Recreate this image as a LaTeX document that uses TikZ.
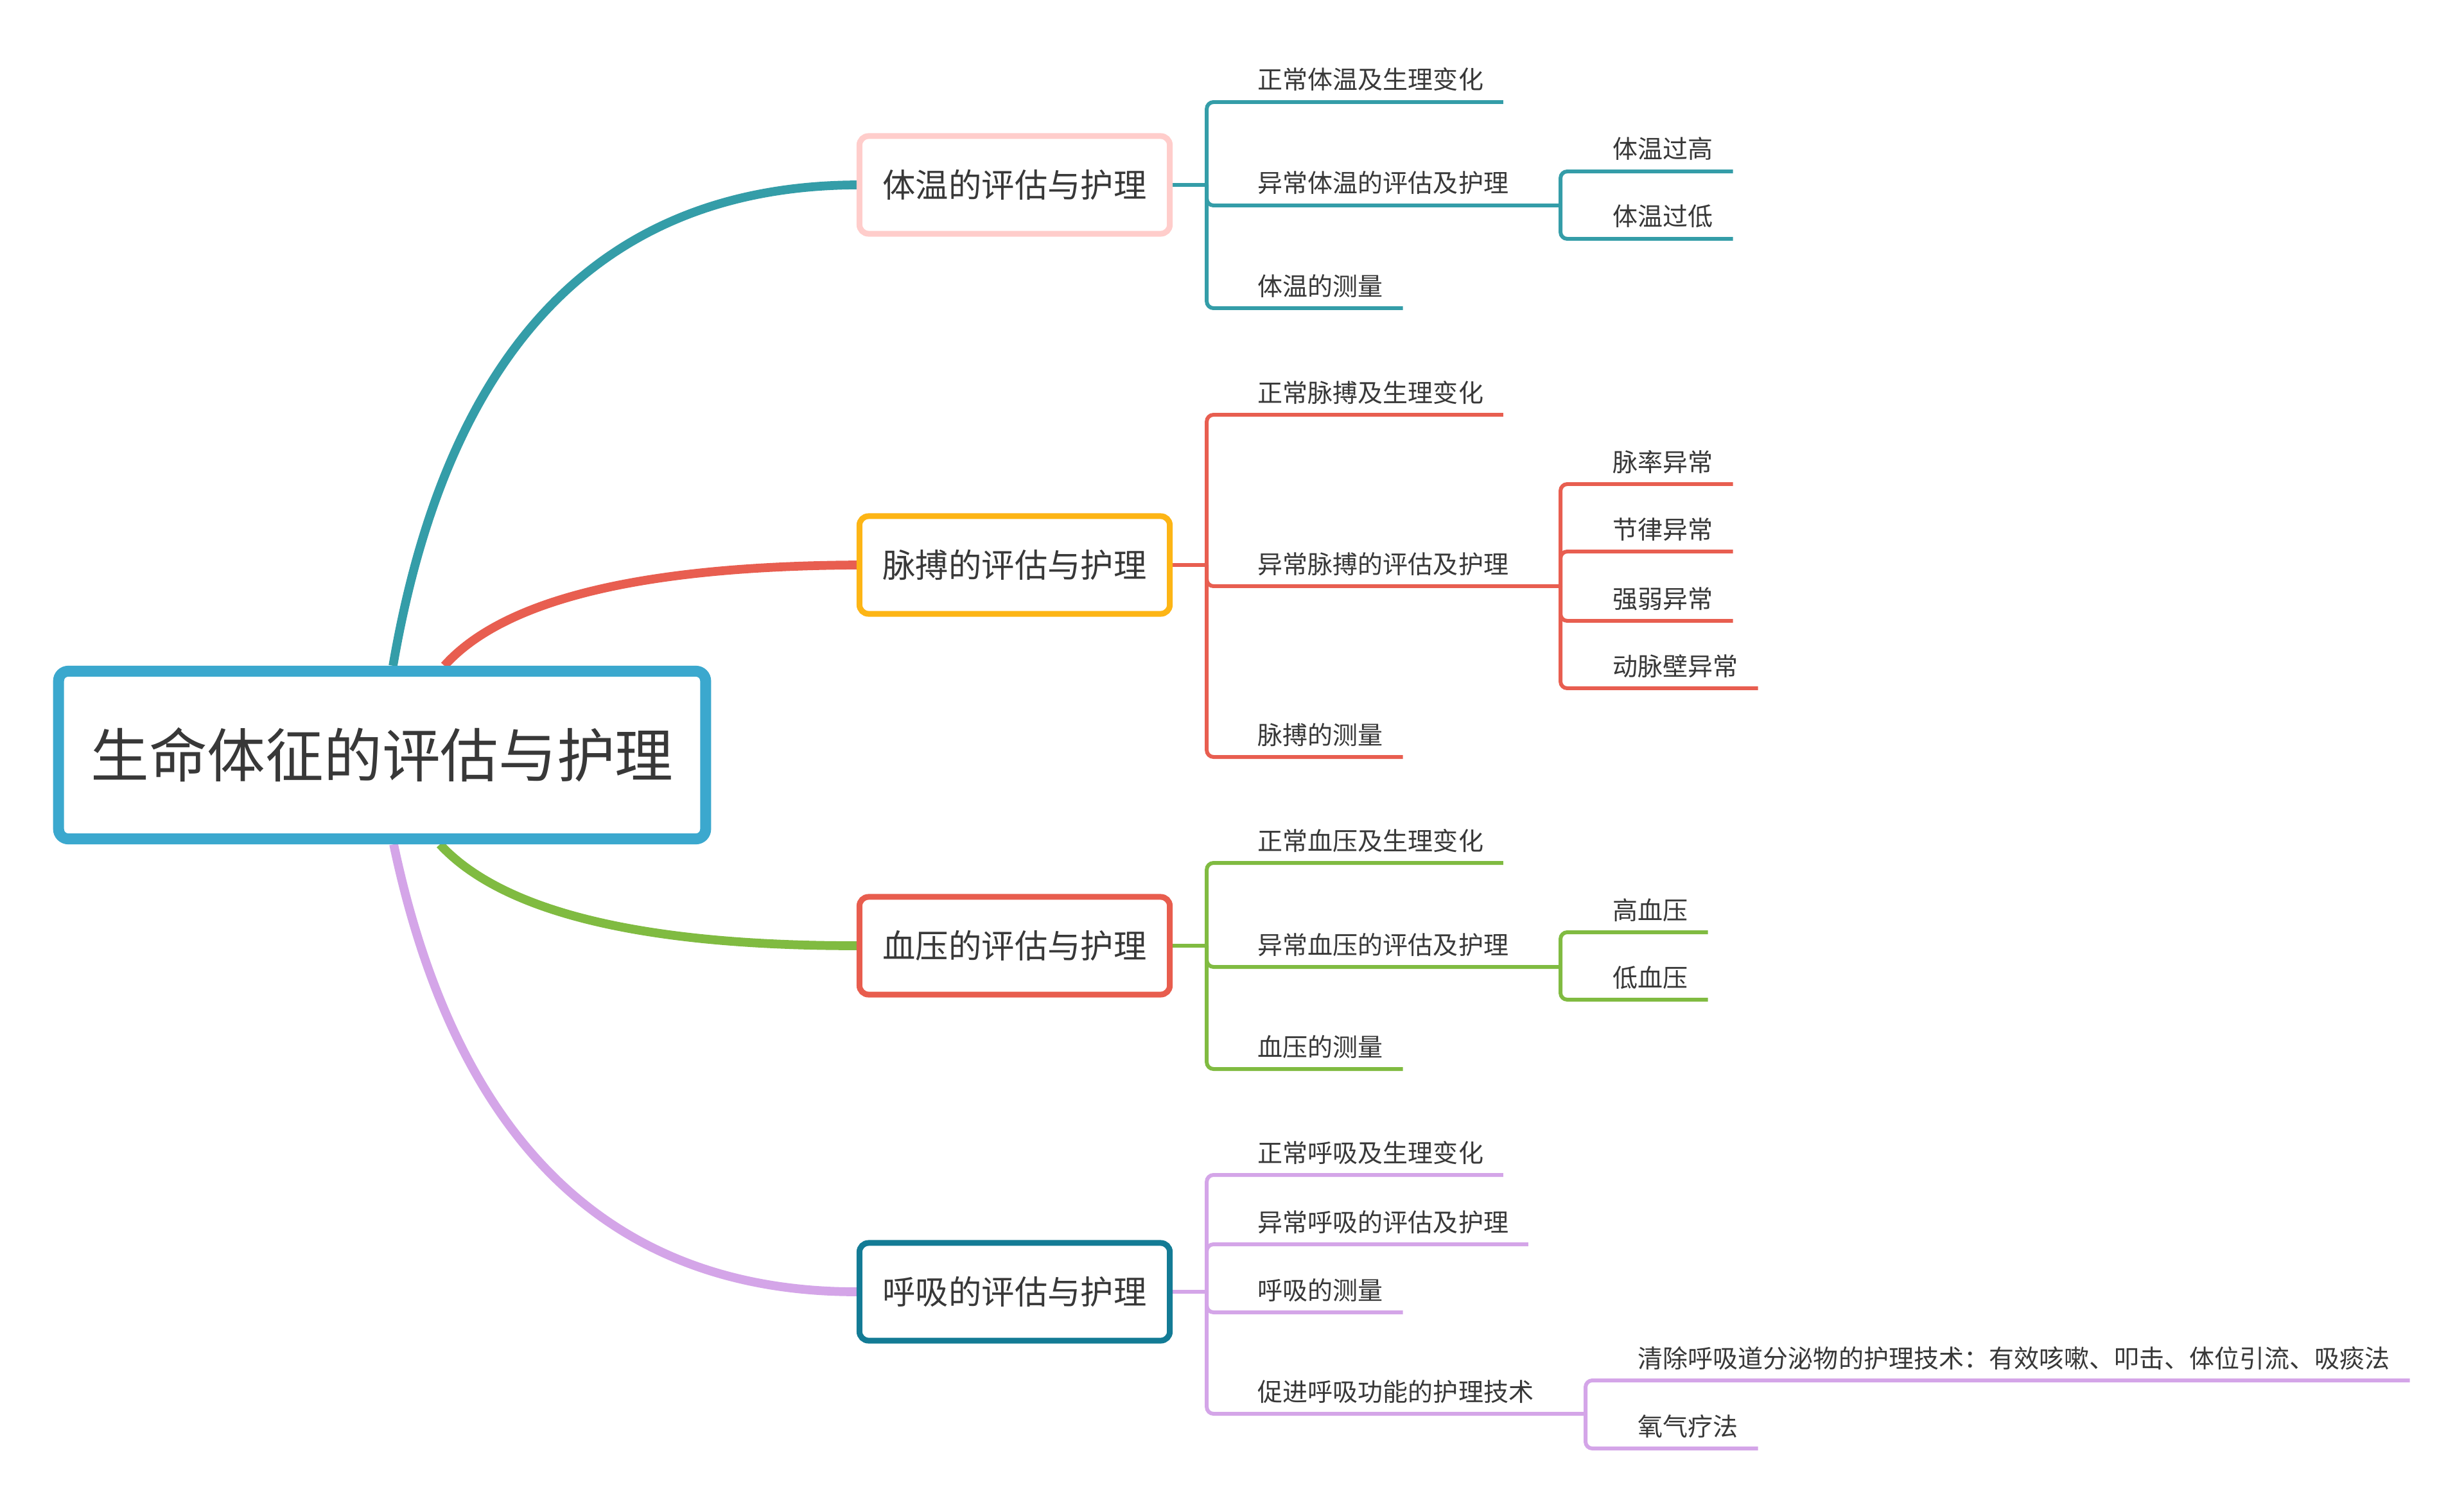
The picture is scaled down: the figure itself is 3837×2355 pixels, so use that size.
\documentclass[tikz,border=0pt]{standalone}
\usepackage{fontspec}
\newfontfamily\cjk{Noto Sans CJK SC}
\usetikzlibrary{calc,backgrounds}
\definecolor{rootc}{HTML}{3BA8CE}
\definecolor{txtc}{HTML}{383838}
\definecolor{tealc}{HTML}{349DA8}
\definecolor{redc}{HTML}{E85E50}
\definecolor{greenc}{HTML}{80BB41}
\definecolor{purpc}{HTML}{D4A5E8}
\definecolor{pinkc}{HTML}{FFCDCB}
\definecolor{orangec}{HTML}{FDB515}
\definecolor{boxredc}{HTML}{E85D4E}
\definecolor{darktealc}{HTML}{137B95}
\tikzset{
  rootbox/.style={draw=rootc, line width=4.84pt, rounded corners=4.3pt, fill=white,
    minimum width=10.07cm, minimum height=2.61cm, inner sep=0pt, text=txtc,
    font=\cjk\fontsize{25.8pt}{30pt}\selectfont},
  mainbox/.style={line width=2.56pt, rounded corners=4pt, fill=white,
    minimum width=4.83cm, minimum height=1.52cm, inner sep=0pt, text=txtc,
    font=\cjk\fontsize{14.6pt}{18pt}\selectfont},
  leaf/.style={anchor=base west, inner sep=0pt, text=txtc,
    font=\cjk\fontsize{11.1pt}{13pt}\selectfont},
  curve/.style={line width=3.9pt},
  elbow/.style={line width=1.7pt, rounded corners=3pt}
}
\begin{document}
\begin{tikzpicture}[x=0.01cm,y=-0.01cm]
\path[use as bounding box] (0,0) rectangle (3837,2355);

% root and main topics
\node[rootbox] (root) at (595,1176) {生命体征的评估与护理};
\node[mainbox, draw=pinkc] (t1) at (1580,288) {体温的评估与护理};
\node[mainbox, draw=orangec] (t2) at (1580,880) {脉搏的评估与护理};
\node[mainbox, draw=boxredc] (t3) at (1580,1473) {血压的评估与护理};
\node[mainbox, draw=darktealc] (t4) at (1580,2012) {呼吸的评估与护理};

% junctions
\coordinate (j1) at ($(t1.east)+(53,0)$);
\coordinate (j2) at ($(t2.east)+(53,0)$);
\coordinate (j3) at ($(t3.east)+(53,0)$);
\coordinate (j4) at ($(t4.east)+(53,0)$);
\coordinate (ja) at (2430,320);
\coordinate (jb) at (2430,913);
\coordinate (jc) at (2430,1506);
\coordinate (jd) at (2469,2202);

% leaves: temperature
\node[leaf] (a1) at (1958,139) {正常体温及生理变化};
\node[leaf] (a2) at (1958,300) {异常体温的评估及护理};
\node[leaf] (a3) at (1958,460) {体温的测量};
\node[leaf] (a21) at (2511,247) {体温过高};
\node[leaf] (a22) at (2511,352) {体温过低};
% pulse
\node[leaf] (b1) at (1958,626) {正常脉搏及生理变化};
\node[leaf] (b2) at (1958,893) {异常脉搏的评估及护理};
\node[leaf] (b3) at (1958,1159) {脉搏的测量};
\node[leaf] (b21) at (2511,734) {脉率异常};
\node[leaf] (b22) at (2511,839) {节律异常};
\node[leaf] (b23) at (2511,947) {强弱异常};
\node[leaf] (b24) at (2511,1052) {动脉壁异常};
% blood pressure
\node[leaf] (c1) at (1958,1324) {正常血压及生理变化};
\node[leaf] (c2) at (1958,1486) {异常血压的评估及护理};
\node[leaf] (c3) at (1958,1645) {血压的测量};
\node[leaf] (c21) at (2511,1432) {高血压};
\node[leaf] (c22) at (2511,1537) {低血压};
% respiration
\node[leaf] (d1) at (1958,1810) {正常呼吸及生理变化};
\node[leaf] (d2) at (1958,1918) {异常呼吸的评估及护理};
\node[leaf] (d3) at (1958,2024) {呼吸的测量};
\node[leaf] (d4) at (1958,2182) {促进呼吸功能的护理技术};
\node[leaf] (d41) at (2550,2130) {清除呼吸道分泌物的护理技术：有效咳嗽、叩击、体位引流、吸痰法};
\node[leaf] (d42) at (2550,2236) {氧气疗法};

\begin{pgfonlayer}{background}
\fill[white] (0,0) rectangle (3837,2355);
% main curves
\draw[curve, tealc] ($(root.north)+(17,0)$) .. controls (697,542) and (937,290) .. (t1.west);
\draw[curve, redc] ($(root.north)+(97,0)$) .. controls (784,934) and (998,882) .. (t2.west);
\draw[curve, greenc] ($(root.south)+(90,0)$) .. controls (782,1420) and (998,1473) .. (t3.west);
\draw[curve, purpc] ($(root.south)+(18,0)$) .. controls (711,1779) and (952,2012) .. (t4.west);

% temperature
\draw[elbow, tealc] (t1.east) -- (j1);
\draw[elbow, tealc] (j1) |- ($(a1.base east)+(30,20)$);
\draw[elbow, tealc] (j1) |- (ja);
\draw[elbow, tealc] (j1) |- ($(a3.base east)+(30,20)$);
\draw[elbow, tealc] (ja) |- ($(a21.base east)+(30,20)$);
\draw[elbow, tealc] (ja) |- ($(a22.base east)+(30,20)$);
% pulse
\draw[elbow, redc] (t2.east) -- (j2);
\draw[elbow, redc] (j2) |- ($(b1.base east)+(30,20)$);
\draw[elbow, redc] (j2) |- (jb);
\draw[elbow, redc] (j2) |- ($(b3.base east)+(30,20)$);
\draw[elbow, redc] (jb) |- ($(b21.base east)+(30,20)$);
\draw[elbow, redc] (jb) |- ($(b22.base east)+(30,20)$);
\draw[elbow, redc] (jb) |- ($(b23.base east)+(30,20)$);
\draw[elbow, redc] (jb) |- ($(b24.base east)+(30,20)$);
% blood pressure
\draw[elbow, greenc] (t3.east) -- (j3);
\draw[elbow, greenc] (j3) |- ($(c1.base east)+(30,20)$);
\draw[elbow, greenc] (j3) |- (jc);
\draw[elbow, greenc] (j3) |- ($(c3.base east)+(30,20)$);
\draw[elbow, greenc] (jc) |- ($(c21.base east)+(30,20)$);
\draw[elbow, greenc] (jc) |- ($(c22.base east)+(30,20)$);
% respiration
\draw[elbow, purpc] (t4.east) -- (j4);
\draw[elbow, purpc] (j4) |- ($(d1.base east)+(30,20)$);
\draw[elbow, purpc] (j4) |- ($(d2.base east)+(30,20)$);
\draw[elbow, purpc] (j4) |- ($(d3.base east)+(30,20)$);
\draw[elbow, purpc] (j4) |- (jd);
\draw[elbow, purpc] (jd) |- ($(d41.base east)+(30,20)$);
\draw[elbow, purpc] (jd) |- ($(d42.base east)+(30,20)$);
\end{pgfonlayer}
\end{tikzpicture}
\end{document}
